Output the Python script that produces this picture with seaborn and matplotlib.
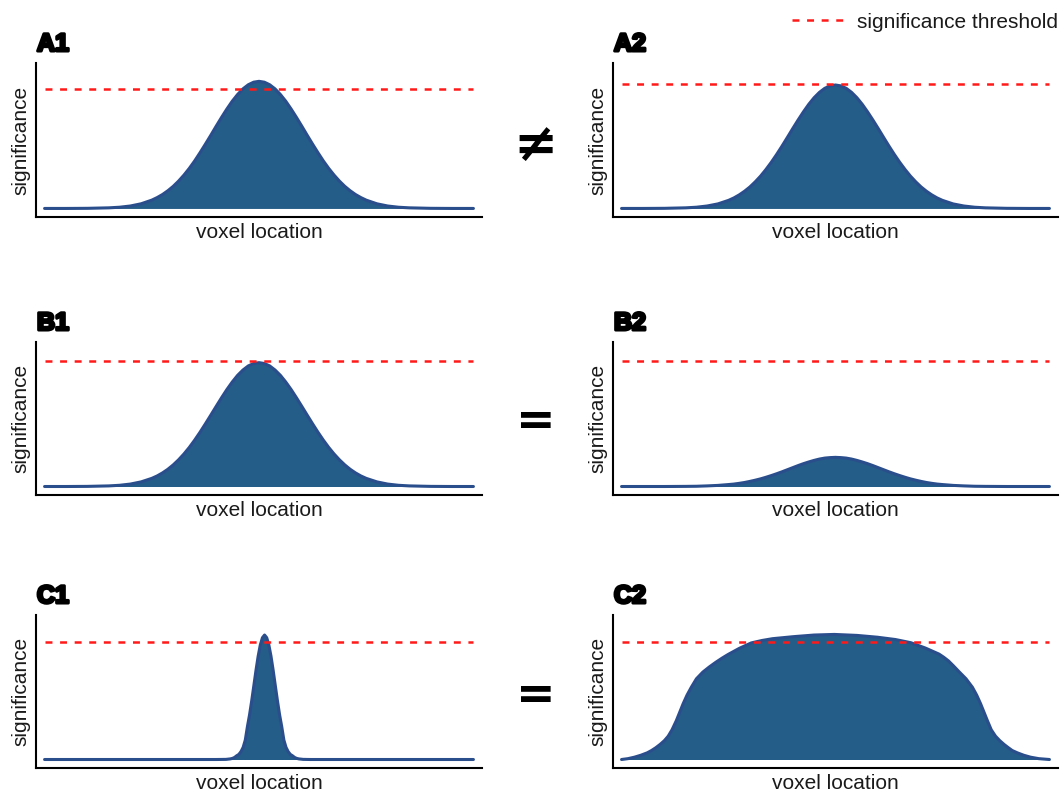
import matplotlib
matplotlib.use("Agg")
import matplotlib.pyplot as plt
import matplotlib.patheffects as pe
from matplotlib.lines import Line2D
import seaborn as sns

# ---------------- data ----------------
bell_x = [0, 5, 10, 15, 17.5, 20, 22.5, 25, 26.25, 27.5, 28.75, 30, 31.25, 32.5, 33.75, 35, 36.25, 37.5,
          38.75, 40, 41.25, 42.5, 43.75, 45, 46.25, 47.5, 48.75,
          50,
          51.25, 52.5, 53.75, 55, 56.25, 57.5, 58.75, 60, 61.25, 62.5, 63.75, 65, 66.25, 67.5, 68.75, 70,
          71.25, 72.5, 73.75, 75, 77.5, 80, 82.5, 85, 90, 95, 100]

a1_y = [0, 0, 0.001, 0.005, 0.010, 0.020, 0.038, 0.068, 0.089, 0.114, 0.145, 0.181, 0.224, 0.273, 0.328,
        0.389, 0.456, 0.526, 0.598, 0.672, 0.744, 0.813, 0.877, 0.932, 0.978, 1.012, 1.033,
        1.04,
        1.033, 1.012, 0.978, 0.932, 0.877, 0.813, 0.744, 0.672, 0.598, 0.526, 0.456, 0.389, 0.328, 0.273,
        0.224, 0.181, 0.145, 0.114, 0.089, 0.068, 0.038, 0.020, 0.010, 0.005, 0.001, 0, 0]
a2_y = [0, 0, 0.001, 0.005, 0.010, 0.020, 0.037, 0.066, 0.086, 0.111, 0.141, 0.176, 0.218, 0.265, 0.319,
        0.378, 0.442, 0.510, 0.581, 0.653, 0.723, 0.790, 0.852, 0.906, 0.950, 0.983, 1.003,
        1.01,
        1.003, 0.983, 0.950, 0.906, 0.852, 0.790, 0.723, 0.653, 0.581, 0.510, 0.442, 0.378, 0.319, 0.265,
        0.218, 0.176, 0.141, 0.111, 0.086, 0.066, 0.037, 0.020, 0.010, 0.005, 0.001, 0, 0]
b1_y = [0, 0, 0.001, 0.005, 0.010, 0.020, 0.038, 0.067, 0.087, 0.112, 0.142, 0.178, 0.220, 0.268, 0.322,
        0.382, 0.447, 0.516, 0.587, 0.659, 0.730, 0.798, 0.860, 0.915, 0.959, 0.993, 1.013,
        1.02,
        1.013, 0.993, 0.959, 0.915, 0.860, 0.798, 0.730, 0.659, 0.587, 0.516, 0.447, 0.382, 0.322, 0.268,
        0.220, 0.178, 0.142, 0.112, 0.087, 0.067, 0.038, 0.020, 0.010, 0.005, 0.001, 0, 0]
b2_y = [0, 0, 0, 0.001, 0.002, 0.005, 0.009, 0.016, 0.020, 0.026, 0.033, 0.042, 0.052, 0.063, 0.076,
        0.090, 0.105, 0.121, 0.138, 0.155, 0.172, 0.188, 0.202, 0.215, 0.226, 0.234, 0.238,
        0.24,
        0.238, 0.234, 0.226, 0.215, 0.202, 0.188, 0.172, 0.155, 0.138, 0.121, 0.105, 0.090, 0.076, 0.063,
        0.052, 0.042, 0.033, 0.026, 0.020, 0.016, 0.009, 0.005, 0.002, 0.001, 0, 0, 0]

c1_x = [0, 20, 40, 42.3, 43.3, 43.8, 44.3, 44.8, 45.3, 45.8, 46.3, 46.8, 47.3, 47.8, 48.3, 48.8, 49.3,
        49.8, 50.3, 50.8, 51.3, 51.8, 52.3, 52.8, 53.3, 53.8, 54.3, 54.8, 55.3, 55.8, 56.3, 56.8, 57.3,
        57.8, 58.3, 58.8, 59.3, 60.3, 62, 80, 100]
c1_y = [0, 0, 0, 0.001, 0.005, 0.009, 0.017, 0.031, 0.042, 0.065, 0.100, 0.160, 0.271, 0.369, 0.484,
        0.609, 0.735, 0.850, 0.943, 1.003, 1.025, 1.003, 0.943, 0.850, 0.735, 0.609, 0.484, 0.369, 0.271,
        0.160, 0.100, 0.065, 0.042, 0.031, 0.017, 0.009, 0.005, 0.001, 0, 0, 0]

c2_x = [0, 1.5, 3, 4.5, 6, 7, 8, 9, 10, 10.9, 11.8, 12.8, 13.6, 14.4, 15.3, 16.3, 17.5, 19, 20.5, 22,
        23.5, 24.9, 27.5, 30.3, 32.8, 35.3, 40.3, 45, 49.7, 55, 59.8, 64, 67.6, 71, 74.2, 75.3, 76.4,
        77.6, 78.9, 80.5, 82, 83, 83.9, 84.7, 85.5, 86.4, 87.4, 88.4, 89.4, 90.4, 91.3, 92.5, 94, 95.6,
        97.5, 100]
c2_y = [0, 0.007, 0.019, 0.035, 0.055, 0.074, 0.097, 0.124, 0.155, 0.192, 0.245, 0.32, 0.39, 0.46, 0.53,
        0.595, 0.665, 0.72, 0.762, 0.80, 0.835, 0.865, 0.915, 0.96, 0.98, 0.995, 1.012, 1.025, 1.03, 1.022,
        1.007, 0.988, 0.962, 0.918, 0.868, 0.842, 0.812, 0.77, 0.722, 0.665, 0.595, 0.53, 0.46, 0.39, 0.32,
        0.245, 0.192, 0.155, 0.124, 0.097, 0.074, 0.055, 0.035, 0.019, 0.007, 0]

thresholds = [0.98, 1.02, 1.03, 1.03, 0.97, 0.97]
panel_labels = ["A1", "A2", "B1", "B2", "C1", "C2"]
relations = ["\u2260", "=", "="]
x_label = "voxel location"
y_label = "significance"
legend_label = "significance threshold"

# ---------------- styling ----------------
sns.set_style("white")
plt.rcParams["font.family"] = ["Liberation Sans", "DejaVu Sans"]
plt.rcParams["lines.scale_dashes"] = False
plt.rcParams["text.color"] = "#1a1a1a"

fill_color = "#245d87"
edge_color = "#2a4e8c"
red = "#ff1a1a"
dash = (0, (5, 5.5))

fig = plt.figure(figsize=(10.63, 7.92), dpi=100)

W, H = 1063.0, 792.0
col_px = [(36, 482), (613, 1058)]
row_px = [(63, 217), (342, 495), (615, 768)]

series = [(bell_x, a1_y), (bell_x, a2_y), (bell_x, b1_y), (bell_x, b2_y), (c1_x, c1_y), (c2_x, c2_y)]

for i, (xs, ys) in enumerate(series):
    r, c = divmod(i, 2)
    x0, x1 = col_px[c]
    y0, y1 = row_px[r]
    ax = fig.add_axes([x0 / W, 1 - y1 / H, (x1 - x0) / W, (y1 - y0) / H])
    ax.fill_between(xs, 0, ys, color=fill_color, linewidth=0, zorder=1)
    sns.lineplot(x=xs, y=ys, ax=ax, color=edge_color, linewidth=2.2, sort=False, zorder=2)
    ax.hlines(thresholds[i], 0, 100, colors=red, linestyles=dash, linewidth=1.8, zorder=3)
    ax.set_xlim(-2, 102)
    ax.set_ylim(-0.07, 1.19)
    ax.set_xticks([])
    ax.set_yticks([])
    for s in ["top", "right"]:
        ax.spines[s].set_visible(False)
    for s in ["left", "bottom"]:
        ax.spines[s].set_color("black")
        ax.spines[s].set_linewidth(1.5)
    ax.set_xlabel(x_label, fontsize=15, labelpad=4, color="#1a1a1a")
    ax.set_ylabel(y_label, fontsize=15, labelpad=4, color="#1a1a1a")
    fig.text((x0 + 1) / W, 1 - (y0 - 12) / H, panel_labels[i], fontsize=18, fontweight="bold",
             color="black", ha="left", va="baseline",
             path_effects=[pe.withStroke(linewidth=2.2, foreground="black")])

row_centers = [140, 418, 691]
sym_sizes = [38, 34, 34]
for r, sym in enumerate(relations):
    fig.text(536 / W, 1 - row_centers[r] / H, sym, fontsize=sym_sizes[r], fontweight="bold",
             color="black", family=["DejaVu Sans"], ha="center", va="center_baseline")

handle = Line2D([0], [0], color=red, linestyle=dash, linewidth=1.8)
fig.legend(handles=[handle], labels=[legend_label], loc="center right",
           bbox_to_anchor=(1058 / W, 1 - 22 / H), frameon=False, fontsize=15,
           handlelength=2.6, handletextpad=0.5, borderpad=0, borderaxespad=0)

fig.savefig("out.png", dpi=100)
